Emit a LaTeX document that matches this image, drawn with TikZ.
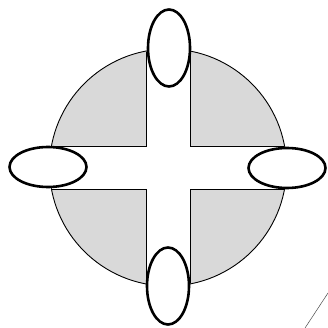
\documentclass[tikz,border=0pt]{standalone}
\usetikzlibrary{shapes.geometric}
\begin{document}
\begin{tikzpicture}[x=1pt,y=-1pt,
  disc/.style={fill=gray!30,draw=black,line width=0.9pt},
  armedge/.style={draw=black,line width=0.8pt,fill=white},
  ovalcap/.style={ellipse,draw=black,fill=white,line width=2.6pt,inner sep=0pt},
  capv/.style={ovalcap,minimum width=42pt,minimum height=77pt},
  caph/.style={ovalcap,minimum width=77pt,minimum height=40pt}]
\useasboundingbox (0,0) rectangle (328,328);
\coordinate (c) at (168,167.5);
\fill[white] (0,0) rectangle (328,328);
\draw[disc] (c) circle[radius=118.5];
\begin{scope}
  \clip (c) circle[radius=118];
  \draw[armedge] (146,0) -- (146,146) -- (0,146) -- (0,189) -- (146,189) -- (146,328)
    -- (190,328) -- (190,189) -- (328,189) -- (328,146) -- (190,146) -- (190,0) -- cycle;
\end{scope}
\node[capv] (top) at (169,48) {};
\node[capv] (bottom) at (168,286) {};
\node[caph] (left) at (48,167) {};
\node[caph] (right) at (287,168) {};
\coordinate (s1) at (305,328);
\coordinate (s2) at (328,293);
\draw[black!70,line width=0.5pt] (s1) -- (s2);
\end{tikzpicture}
\end{document}
